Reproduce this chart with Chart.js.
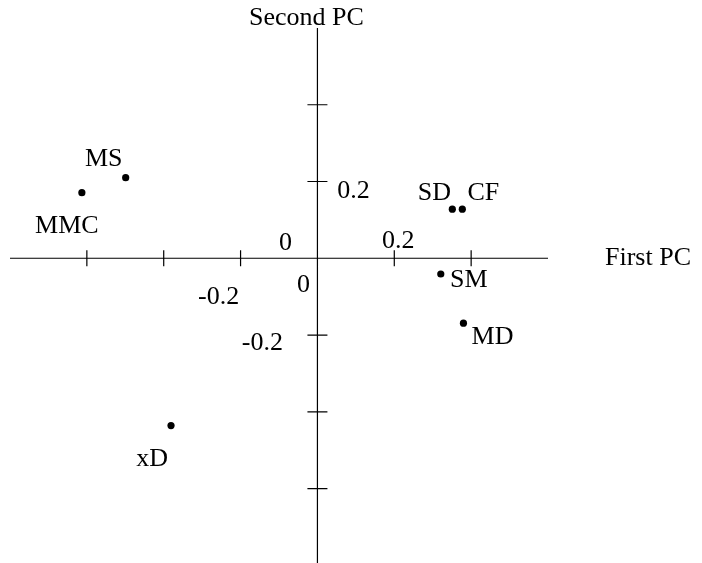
<!DOCTYPE html>
<html>
<head>
<meta charset="utf-8">
<script src="https://cdn.jsdelivr.net/npm/chart.js@4/dist/chart.umd.min.js"></script>
<style>
  html, body { margin: 0; padding: 0; background: #fff; }
  #wrap { width: 702px; height: 563px; position: relative; }
</style>
</head>
<body>
<div id="wrap"><canvas id="c" width="702" height="563"></canvas></div>
<script>
// ---- data ----
const pointNames = ['MS', 'MMC', 'SD', 'CF', 'SM', 'MD', 'xD'];
const firstPC  = [-0.499, -0.613, 0.351, 0.377, 0.321, 0.380, -0.381];
const secondPC = [ 0.210,  0.171, 0.128, 0.128, -0.041, -0.169, -0.436];
const xTickValues = [-0.6, -0.4, -0.2, 0.2, 0.4];
const yTickValues = [0.4, 0.2, -0.2, -0.4, -0.6];
const xTickLabels = ['0', '0.2', '-0.2', '0'];
const xTickLabelValues = [0, 0.2, -0.2, 0];
const yTickLabels = ['0.2', '-0.2'];
const yTickLabelValues = [0.2, -0.2];
const xTitle = 'First PC';
const yTitle = 'Second PC';

// ---- styling / placement (pixels) ----
const FONT = '26px "Liberation Serif", "DejaVu Serif", serif';
const pointLabelOffsets = {
  MS: [-22, -19], MMC: [-15, 34], SD: [-18, -16], CF: [21, -16],
  SM: [28, 6], MD: [29, 14], xD: [-19, 34]
};
const xTickLabelOffsets = [[-32, -15], [4, -17], [-22, 39], [-14, 27]];
const yTickLabelOffsets = [[36, 10], [-55, 8]];

const points = firstPC.map((x, i) => ({ x: x, y: secondPC[i] }));

const axesPlugin = {
  id: 'pcaAxes',
  beforeDatasetsDraw(chart) {
    const ctx = chart.ctx;
    const xs = chart.scales.x, ys = chart.scales.y;
    const x0 = xs.getPixelForValue(0), y0 = ys.getPixelForValue(0);
    ctx.save();
    ctx.strokeStyle = '#000';
    ctx.lineWidth = 1.2;
    ctx.beginPath();
    ctx.moveTo(xs.left, y0); ctx.lineTo(xs.right, y0);
    ctx.moveTo(x0, ys.top); ctx.lineTo(x0, chart.height);
    xTickValues.forEach(v => {
      const px = xs.getPixelForValue(v);
      ctx.moveTo(px, y0 - 8); ctx.lineTo(px, y0 + 8);
    });
    yTickValues.forEach(v => {
      const py = ys.getPixelForValue(v);
      ctx.moveTo(x0 - 10, py); ctx.lineTo(x0 + 10, py);
    });
    ctx.stroke();

    ctx.fillStyle = '#000';
    ctx.font = FONT;
    ctx.textAlign = 'center';
    ctx.textBaseline = 'middle';
    xTickLabels.forEach((t, i) => {
      const px = xs.getPixelForValue(xTickLabelValues[i]);
      const o = xTickLabelOffsets[i];
      ctx.fillText(t, px + o[0], y0 + o[1]);
    });
    yTickLabels.forEach((t, i) => {
      const py = ys.getPixelForValue(yTickLabelValues[i]);
      const o = yTickLabelOffsets[i];
      ctx.fillText(t, x0 + o[0], py + o[1]);
    });
    // axis titles
    ctx.fillText(xTitle, xs.right + 100, y0);
    ctx.fillText(yTitle, x0 - 11, ys.top - 10);
    ctx.restore();
  },
  afterDatasetsDraw(chart) {
    const ctx = chart.ctx;
    const meta = chart.getDatasetMeta(0);
    ctx.save();
    ctx.fillStyle = '#000';
    ctx.font = FONT;
    ctx.textAlign = 'center';
    ctx.textBaseline = 'middle';
    meta.data.forEach((el, i) => {
      const name = pointNames[i];
      const o = pointLabelOffsets[name] || [0, 0];
      ctx.fillText(name, el.x + o[0], el.y + o[1]);
    });
    ctx.restore();
  }
};

new Chart(document.getElementById('c'), {
  type: 'scatter',
  data: {
    datasets: [{
      data: points,
      backgroundColor: '#000',
      borderColor: '#000',
      pointRadius: 3.6,
      pointHoverRadius: 3.6,
      borderWidth: 0
    }]
  },
  options: {
    responsive: false,
    animation: false,
    events: [],
    layout: { autoPadding: false, padding: { left: 10, right: 154, top: 28, bottom: 0 } },
    plugins: { legend: { display: false }, tooltip: { enabled: false } },
    scales: {
      x: { type: 'linear', min: -0.8, max: 0.6, display: false },
      y: { type: 'linear', min: -0.794, max: 0.6, display: false }
    }
  },
  plugins: [axesPlugin]
});
</script>
</body>
</html>
